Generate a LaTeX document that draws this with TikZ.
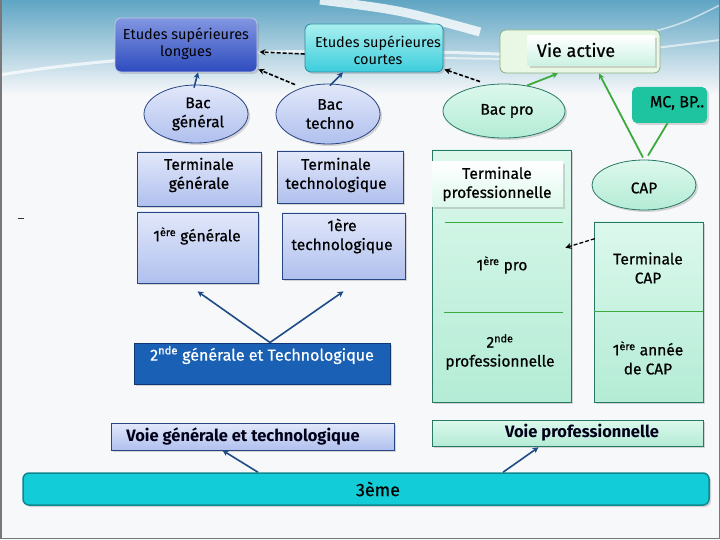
\documentclass[tikz,border=0pt]{standalone}
\usepackage{fontspec}
\setmainfont{Fira Sans}
\newfontfamily\medf{Fira Sans}[FakeBold=0.6]
\usetikzlibrary{shapes.geometric,shadows,arrows.meta,calc}
\definecolor{topblue}{RGB}{95,165,195}
\definecolor{bgcol}{RGB}{247,248,250}
\definecolor{framecol}{RGB}{120,120,120}
\definecolor{bdark}{RGB}{40,70,130}
\definecolor{blA}{RGB}{226,232,250}
\definecolor{blB}{RGB}{176,192,238}
\definecolor{eslA}{RGB}{130,150,225}
\definecolor{eslB}{RGB}{45,75,190}
\definecolor{escA}{RGB}{170,240,240}
\definecolor{escB}{RGB}{60,205,220}
\definecolor{escD}{RGB}{40,140,160}
\definecolor{vaA}{RGB}{232,248,228}
\definecolor{vaD}{RGB}{140,175,130}
\definecolor{grA}{RGB}{220,248,236}
\definecolor{grB}{RGB}{180,236,214}
\definecolor{gdark}{RGB}{40,120,100}
\definecolor{gline}{RGB}{60,170,60}
\definecolor{mccol}{RGB}{30,195,160}
\definecolor{sgcol}{RGB}{26,96,180}
\definecolor{sgdark}{RGB}{15,55,115}
\definecolor{troiscol}{RGB}{18,205,216}
\definecolor{troisdark}{RGB}{15,135,145}
\definecolor{arrblue}{RGB}{30,75,135}
\tikzset{
  shad/.style={drop shadow={opacity=0.3,shadow xshift=2pt,shadow yshift=-2pt}},
  bluebox/.style={draw=bdark,line width=0.7pt,top color=blA,bottom color=blB,shad},
  blueell/.style={ellipse,draw=bdark,line width=0.8pt,top color=blA,bottom color=blB,shad,inner sep=0pt},
  greenbox/.style={draw=gdark,line width=0.6pt,top color=grA,bottom color=grB,shad},
  greenell/.style={ellipse,draw=gdark,line width=0.8pt,top color=grA,bottom color=grB,shad,inner sep=0pt},
  lab/.style={align=center,font=\medf\fontsize{15.5}{19}\selectfont,inner sep=0pt},
  toplab/.style={align=center,font=\fontsize{14.5}{17}\selectfont,inner sep=0pt},
  voielab/.style={align=center,font=\bfseries\fontsize{16.5}{19}\selectfont,text=black!90!blue,inner sep=0pt},
  barrow/.style={draw=arrblue,line width=1.6pt,-{Stealth[length=6pt,width=6pt]}},
  garrow/.style={draw=gline,line width=1.8pt,-{Stealth[length=6pt,width=6pt]}},
  gplain/.style={draw=gline,line width=1.8pt},
  darrow/.style={draw=black,line width=1.6pt,dashed,dash pattern=on 4pt off 2pt,-{Stealth[length=6pt,width=6pt]}},
}
\begin{document}
\begin{tikzpicture}[x=1pt,y=-1pt]
\useasboundingbox (0,0) rectangle (720,540);
% background
\fill[bgcol] (0,0) rectangle (720,540);
\fill[top color=topblue,bottom color=bgcol] (0,0) rectangle (720,95);
\draw[white,line width=9pt,opacity=0.8] (320,0) .. controls (400,10) .. (480,32);
\draw[white,line width=3pt,opacity=0.7] (0,75) .. controls (120,55) and (300,45) .. (520,55);
\draw[white,line width=2pt,opacity=0.6] (440,58) .. controls (560,60) .. (720,40);
\draw[white,line width=1.5pt,opacity=0.6] (620,40) .. controls (680,25) .. (720,5);
\draw[framecol,line width=1.5pt] (0.75,0) -- (0.75,538.5) -- (719.25,538.5) -- (719.25,0);
\draw[black!80,line width=1pt] (18,219) -- (24,219);

% top row
\node[draw=white!70!eslB,line width=0.8pt,rounded corners=6pt,top color=eslA,bottom color=eslB,shad,minimum width=142pt,minimum height=54pt] (esl) at (186,45) {};
\node[toplab] (eslt) at (186,44) {Etudes supérieures\\longues};
\node[draw=escD,line width=0.8pt,rounded corners=6pt,top color=escA,bottom color=escB,shad,minimum width=138pt,minimum height=48pt] (esc) at (374,48) {};
\node[toplab] (esct) at (378,50) {Etudes supérieures\\courtes};
\node[draw=vaD,line width=0.8pt,rounded corners=6pt,fill=vaA,minimum width=160pt,minimum height=43pt] (va) at (580,51.5) {};
\node[top color=white,bottom color=grB!70!white,shad,minimum width=127pt,minimum height=30pt] (vain) at (591,51) {};
\node[lab,font=\medf\fontsize{18}{20}\selectfont] (vat) at (576,50) {Vie active};

% Bac row
\node[blueell,minimum width=104pt,minimum height=58pt] (bacg) at (196,114) {};
\node[lab] (bacgt) at (198,114) {Bac\\général};
\node[blueell,minimum width=104pt,minimum height=60pt] (bact) at (328,114) {};
\node[lab] (bactt) at (330,114) {Bac\\techno};
\node[greenell,minimum width=122pt,minimum height=54pt] (bacp) at (504,111) {};
\node[lab] (bacpt) at (507,111) {Bac pro};
\node[rounded corners=5pt,fill=mccol,shad,minimum width=75pt,minimum height=36pt] (mc) at (669.5,105) {};
\node[lab,font=\medf\fontsize{16}{18}\selectfont] (mct) at (677,103) {MC, BP..};

% Terminale row
\node[bluebox,minimum width=124pt,minimum height=54pt] (tg) at (199,179) {};
\node[lab] (tgt) at (199,175) {Terminale\\générale};
\node[bluebox,minimum width=126pt,minimum height=52pt] (tt) at (340,177) {};
\node[lab] (ttt) at (336,175) {Terminale\\technologique};

% green columns
\node[greenbox,minimum width=139pt,minimum height=252pt] (lcol) at (501.5,276) {};
\node[greenbox,minimum width=109pt,minimum height=180pt] (rcol) at (648.5,312) {};
\draw[gline,line width=0.8pt] ($(lcol.north west)+(13,73)$) -- ($(lcol.north east)+(-8,73)$);
\draw[gline,line width=0.8pt] ($(lcol.north west)+(12,163)$) -- ($(lcol.north east)+(-8,163)$);
\draw[gline,line width=0.8pt] ($(rcol.north west)+(0,90)$) -- ($(rcol.north east)+(0,90)$);
\node[top color=white,bottom color=grA,shad,minimum width=131pt,minimum height=45pt] (tpro) at (497.5,184.5) {};
\node[lab] (tprot) at (497,184) {Terminale\\professionnelle};
\node[greenell,minimum width=104pt,minimum height=50pt] (cap) at (644,185) {};
\node[lab] (capt) at (644,188) {CAP};

% 1ere row
\node[bluebox,minimum width=121pt,minimum height=71pt] (g1) at (197.5,247.5) {};
\node[lab] (g1t) at (197,236) {1\textsuperscript{ère} générale};
\node[bluebox,minimum width=123pt,minimum height=66pt] (t1) at (343.5,246) {};
\node[lab] (t1t) at (342,236) {1ère\\technologique};
\node[lab] (p1t) at (502,265) {1\textsuperscript{ère} pro};
\node[lab] (tcapt) at (648,268) {Terminale\\CAP};
\node[lab] (p2t) at (500,352) {2\textsuperscript{nde}\\professionnelle};
\node[lab] (c1t) at (648,358) {1\textsuperscript{ère} année\\de CAP};

% 2nde GT
\node[draw=sgdark,line width=1pt,fill=sgcol,shad,minimum width=256pt,minimum height=41pt] (sg) at (262,363.5) {};
\node[lab,text=white,font=\medf\fontsize{16}{19}\selectfont] (sgt) at (262,355) {2\textsuperscript{nde} générale et Technologique};

% voies
\node[bluebox,minimum width=283pt,minimum height=27pt] (vg) at (252.5,436.5) {};
\node[voielab] (vgt) at (243,436) {Voie générale et technologique};
\node[greenbox,minimum width=271pt,minimum height=26pt] (vp) at (567.5,433) {};
\node[voielab] (vpt) at (582,433) {Voie professionnelle};

% 3eme
\node[draw=troisdark,line width=1.5pt,rounded corners=6pt,fill=troiscol,shad,minimum width=686pt,minimum height=32pt] (trois) at (366,489) {};
\node[lab,font=\medf\fontsize{18}{20}\selectfont] (troist) at (378,489) {3ème};

% connectors
\draw[barrow] ($(bacg.north)+(-2,3)$) -- ($(esl.south)+(12,0)$);
\draw[barrow] ($(bact.north)+(2,2)$) -- ($(esc.south)+(-31,0)$);
\draw[darrow] ($(esc.west)+(0,6)$) -- ($(esl.east)+(2,7)$);
\draw[darrow] ($(bact.north)+(-33,1)$) -- ($(esl.south east)+(1,-3)$);
\draw[darrow] ($(bacp.north)+(-24,-2)$) -- ($(esc.south east)+(1,-3)$);
\draw[garrow] (bacp.48) -- ($(va.south)+(-22,0)$);
\draw[garrow] ($(cap.north)+(-1,-2)$) -- ($(va.south)+(19,0)$);
\draw[gplain] ($(mc.south)+(-2,0)$) -- ($(cap.north)+(4,-4)$);
\draw[darrow,line width=1.3pt] ($(rcol.north west)+(1,17)$) -- ($(lcol.north east)+(-6,98)$);
\draw[barrow] ($(sg.north)+(8,0)$) -- ($(g1.south)+(0,8)$);
\draw[barrow] ($(sg.north)+(8,0)$) -- ($(t1.south)+(0,12)$);
\draw[barrow] ($(trois.north)+(-108,0)$) -- ($(vg.south)+(-30,0)$);
\draw[barrow] ($(trois.north)+(137,0)$) -- ($(vp.south)+(-29,1)$);
\end{tikzpicture}
\end{document}
